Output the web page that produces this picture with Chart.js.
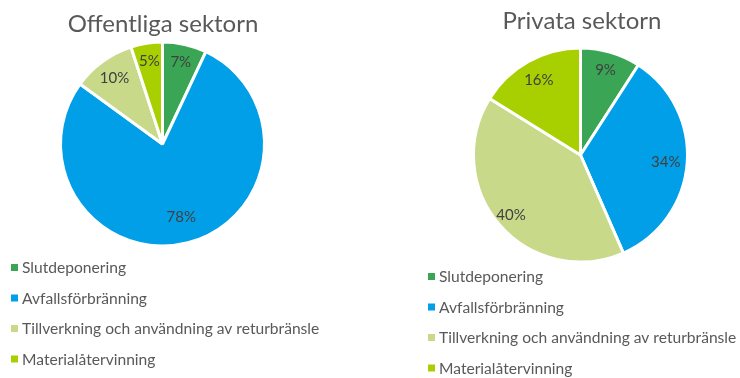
<!DOCTYPE html>
<html>
<head>
<meta charset="utf-8">
<script src="https://cdn.jsdelivr.net/npm/chart.js@4"></script>
<style>
  body { margin: 0; background: #fff; }
  #wrap { position: relative; width: 740px; height: 378px; }
  .box { position: absolute; top: 0; width: 370px; height: 378px; }
  #left { left: 0; }
  #right { left: 370px; }
</style>
</head>
<body>
<div id="wrap">
  <div class="box" id="left"><canvas id="offentliga"></canvas></div>
  <div class="box" id="right"><canvas id="privata"></canvas></div>
</div>
<script>
const categories = [
  "Slutdeponering",
  "Avfallsförbränning",
  "Tillverkning och användning av returbränsle",
  "Materialåtervinning"
];
const offentligaValues = [7, 78, 10, 5];
const privataValues = [9, 34, 40, 16];
const sliceColors = ["#3aa655", "#009fe8", "#c8d98a", "#a8d000"];

const FONT = "Lato, 'Open Sans', sans-serif";

// title, slice percentages and a one-per-line legend, drawn on the canvas
const piePlugin = {
  id: "pieExtras",
  afterDraw(chart, args, opts) {
    const ctx = chart.ctx;
    ctx.save();

    ctx.fillStyle = "#595959";
    ctx.font = "24px " + FONT;
    ctx.textAlign = "center";
    ctx.textBaseline = "middle";
    ctx.fillText(opts.title, opts.titleX, opts.titleY);

    const meta = chart.getDatasetMeta(0);
    const values = chart.data.datasets[0].data;
    const total = values.reduce((a, b) => a + b, 0);
    ctx.font = "15px " + FONT;
    ctx.fillStyle = "#404040";
    meta.data.forEach((arc, i) => {
      const mid = (arc.startAngle + arc.endAngle) / 2;
      const r = arc.outerRadius * (opts.labelRadius[i] || 0.8);
      const x = arc.x + Math.cos(mid) * r;
      const y = arc.y + Math.sin(mid) * r;
      ctx.fillText(Math.round(values[i] / total * 100) + "%", x, y);
    });

    ctx.textAlign = "left";
    ctx.font = "15.6px " + FONT;
    chart.data.labels.forEach((label, i) => {
      const y = opts.legendY + i * opts.legendGap;
      ctx.fillStyle = sliceColors[i];
      ctx.fillRect(opts.legendX, y - 3, 7, 7);
      ctx.fillStyle = "#595959";
      ctx.fillText(label, opts.legendX + 11, y + 1);
    });

    ctx.restore();
  }
};

function makePie(id, values, padding, extras) {
  return new Chart(document.getElementById(id), {
    type: "pie",
    data: {
      labels: categories,
      datasets: [{
        data: values,
        backgroundColor: sliceColors,
        borderColor: "#ffffff",
        borderWidth: 3
      }]
    },
    options: {
      responsive: true,
      maintainAspectRatio: false,
      animation: false,
      layout: { padding: padding },
      plugins: {
        legend: { display: false },
        tooltip: { enabled: false },
        pieExtras: extras
      }
    },
    plugins: [piePlugin]
  });
}

makePie("offentliga", offentligaValues,
  { left: 59, right: 104, top: 40, bottom: 130 },
  {
    title: "Offentliga sektorn", titleX: 163, titleY: 24,
    labelRadius: [0.82, 0.74, 0.8, 0.82],
    legendX: 11, legendY: 267, legendGap: 30.5
  });

makePie("privata", privataValues,
  { left: 102, right: 51, top: 46, bottom: 114 },
  {
    title: "Privata sektorn", titleX: 212, titleY: 21,
    labelRadius: [0.83, 0.8, 0.86, 0.8],
    legendX: 58, legendY: 276, legendGap: 30.5
  });
</script>
</body>
</html>
